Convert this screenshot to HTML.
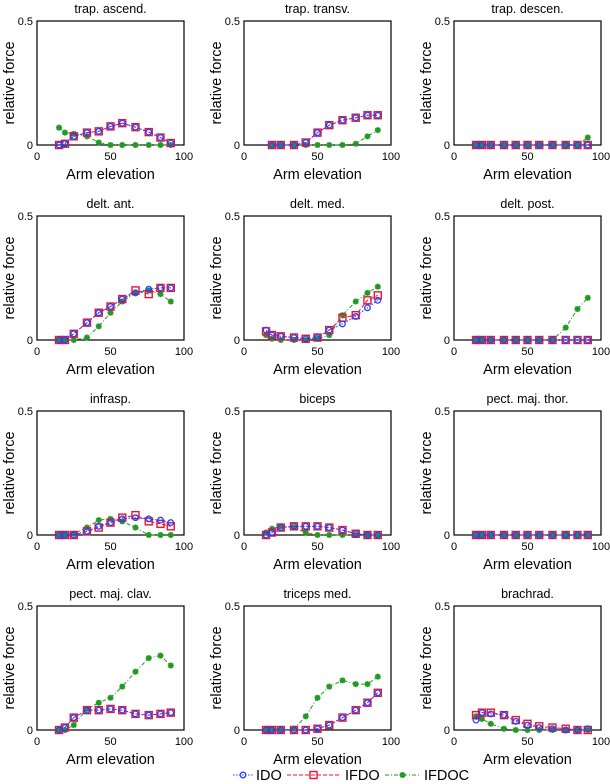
<!DOCTYPE html>
<html><head><meta charset="utf-8">
<style>
html,body{margin:0;padding:0;background:#fff;}
svg{display:block;font-family:"Liberation Sans",sans-serif;}
</style></head>
<body>
<svg id="chart" width="610" height="784" viewBox="0 0 610 784"></svg>
<script>
const xValues = [15,19,25,34,42,50,58,67,76,84,91];
const titles = ["trap. ascend.","trap. transv.","trap. descen.","delt. ant.","delt. med.","delt. post.","infrasp.","biceps","pect. maj. thor.","pect. maj. clav.","triceps med.","brachrad."];
const seriesNames = ["IDO","IFDO","IFDOC"];
const idoData = [
 [0,0.005,0.035,0.05,0.055,0.075,0.088,0.072,0.052,0.03,0.008],
 [null,0,0,0,0.01,0.05,0.08,0.1,0.11,0.12,0.12],
 [0,0,0,0,0,0,0,0,0,0,0],
 [0,0,0.025,0.07,0.11,0.135,0.165,0.19,0.205,0.21,0.21],
 [0.04,0.02,0.015,0.01,0.005,0.01,0.04,0.065,0.095,0.13,0.16],
 [0,0,0,0,0,0,0,0,0,0,0],
 [0,0,0,0.015,0.035,0.05,0.065,0.07,0.065,0.06,0.05],
 [0,0.01,0.03,0.035,0.035,0.035,0.03,0.02,0.005,0,0],
 [0,0,0,0,0,0,0,0,0,0,0],
 [0,0.01,0.05,0.08,0.08,0.085,0.08,0.065,0.06,0.065,0.07],
 [0,0,0,0,0,0.005,0.02,0.05,0.08,0.11,0.15],
 [0.04,0.07,0.065,0.06,0.035,0.02,0.01,0.005,0,0,0.005]
];
const ifdoData = [
 [0,0.005,0.035,0.05,0.055,0.075,0.088,0.072,0.052,0.03,0.008],
 [null,0,0,0,0.01,0.05,0.08,0.1,0.11,0.12,0.12],
 [0,0,0,0,0,0,0,0,0,0,0],
 [0,0,0.025,0.07,0.11,0.135,0.165,0.2,0.185,0.21,0.21],
 [0.035,0.02,0.015,0.01,0.005,0.01,0.04,0.09,0.1,0.16,0.18],
 [0,0,0,0,0,0,0,0,0,0,0],
 [0,0,0,0.015,0.03,0.05,0.07,0.08,0.055,0.045,0.035],
 [0,0.01,0.03,0.035,0.035,0.035,0.03,0.02,0.005,0,0],
 [0,0,0,0,0,0,0,0,0,0,0],
 [0,0.01,0.05,0.08,0.08,0.085,0.08,0.065,0.06,0.065,0.07],
 [0,0,0,0,0,0.005,0.02,0.05,0.08,0.11,0.15],
 [0.06,0.07,0.07,0.06,0.04,0.025,0.015,0.01,0.005,0,0]
];
const ifdocData = [
 [0.07,0.05,0.045,0.035,0.01,0,0,0,0,0,0],
 [null,0,0,0,0,0,0,0,0.005,0.035,0.06],
 [0,0,0,0,0,0,0,0,0,0,0.03],
 [0,0,0,0.01,0.055,0.11,0.155,0.19,0.2,0.185,0.155],
 [0.02,0.005,0,0,0,0.005,0.02,0.1,0.155,0.19,0.215],
 [0,0,0,0,0,0,0,0,0.05,0.125,0.17],
 [0,0,0.005,0.03,0.06,0.065,0.055,0.03,0,0,0],
 [0.01,0.025,0.035,0.03,0.01,0,0,0,0,0,0],
 [0,0,0,0,0,0,0,0,0,0,0],
 [0,0,0.02,0.085,0.11,0.13,0.175,0.235,0.29,0.3,0.26],
 [0,0,0,0.005,0.055,0.13,0.175,0.2,0.185,0.185,0.215],
 [0.055,0.045,0.025,0.005,0,0,0,0,0,0,0]
];
const xTicks = [0,50,100];
const yTicks = [0,0.5];

const NS="http://www.w3.org/2000/svg";
const svg=document.getElementById('chart');
const colLeft=[37,244,454], rowTop=[21,216,411,606], W=147, H=124;
const colors={IDO:"#2244ff",IFDO:"#ee1133",IFDOC:"#229922"};
const dashes={IDO:"1.5,1.5",IFDO:"4,2",IFDOC:"4,2,1,2"};
function mk(tag,attrs,parent){const e=document.createElementNS(NS,tag);for(const k in attrs)e.setAttribute(k,attrs[k]);(parent||svg).appendChild(e);return e;}
function marker(g,name,x,y){
  let m;
  if(name==="IDO"){m=mk('circle',{cx:x,cy:y,r:2.8,fill:'none',stroke:colors.IDO,'stroke-width':1.3},g);}
  else if(name==="IFDO"){m=mk('rect',{x:x-3.5,y:y-3.5,width:7,height:7,fill:'none',stroke:colors.IFDO,'stroke-width':1.4},g);}
  else {m=mk('path',{d:`M${x-3},${y}H${x+3}M${x},${y-3}V${y+3}M${x-2.2},${y-2.2}L${x+2.2},${y+2.2}M${x-2.2},${y+2.2}L${x+2.2},${y-2.2}`,stroke:colors.IFDOC,'stroke-width':1.7},g);}
  
  
}
const allData={IDO:idoData,IFDO:ifdoData,IFDOC:ifdocData};
titles.forEach((t,i)=>{
  const L=colLeft[i%3], T=rowTop[Math.floor(i/3)];
  const sx=v=>L+v/100*W, sy=v=>T+H-v/0.5*H;
  const g=mk('g',{});
  
  
  const title=mk('text',{x:L+W/2,y:T-8,'text-anchor':'middle','font-size':12.5},g);title.textContent=t;
  
  const frame=mk('rect',{x:L,y:T,width:W,height:H,fill:'none',stroke:'#000','stroke-width':1.2},g);
  
  xTicks.forEach(v=>{const tx=mk('text',{x:sx(v),y:T+H+15,'text-anchor':'middle','font-size':11},g);tx.textContent=v;
    });
  yTicks.forEach(v=>{const ty=mk('text',{x:L-4,y:sy(v)+4,'text-anchor':'end','font-size':11},g);ty.textContent=v;
    });
  const xl=mk('text',{x:L+W/2,y:T+H+34,'text-anchor':'middle','font-size':14.5},g);xl.textContent="Arm elevation";
  
  const yl=mk('text',{x:0,y:0,'text-anchor':'middle','font-size':14.5,transform:`translate(${L-23},${T+H/2}) rotate(-90)`},g);yl.textContent="relative force";
  
  ["IFDOC","IFDO","IDO"].forEach(name=>{
    const d=allData[name][i];
    const pts=[];d.forEach((v,k)=>{if(v!==null)pts.push([sx(xValues[k]),sy(v)]);});
    const line=mk('polyline',{points:pts.map(p=>p.join(',')).join(' '),fill:'none',stroke:colors[name],'stroke-width':1,'stroke-dasharray':dashes[name]},g);
    
    
    pts.forEach(p=>marker(g,name,p[0],p[1]));
  });
});
// legend
const lg=mk('g',{});


const legX=[[233,253,256],[287,340,345],[385,420,424]];
seriesNames.forEach((n,k)=>{
  const [a,b,tx0]=legX[k], y0=775;
  const ln=mk('line',{x1:a,y1:y0,x2:b,y2:y0,stroke:colors[n],'stroke-width':1,'stroke-dasharray':dashes[n]},lg);
  
  marker(lg,n,(a+b)/2,y0);
  const tx=mk('text',{x:tx0,y:y0+5,'font-size':14.5},lg);tx.textContent=n;
  
});
</script>
</body></html>
